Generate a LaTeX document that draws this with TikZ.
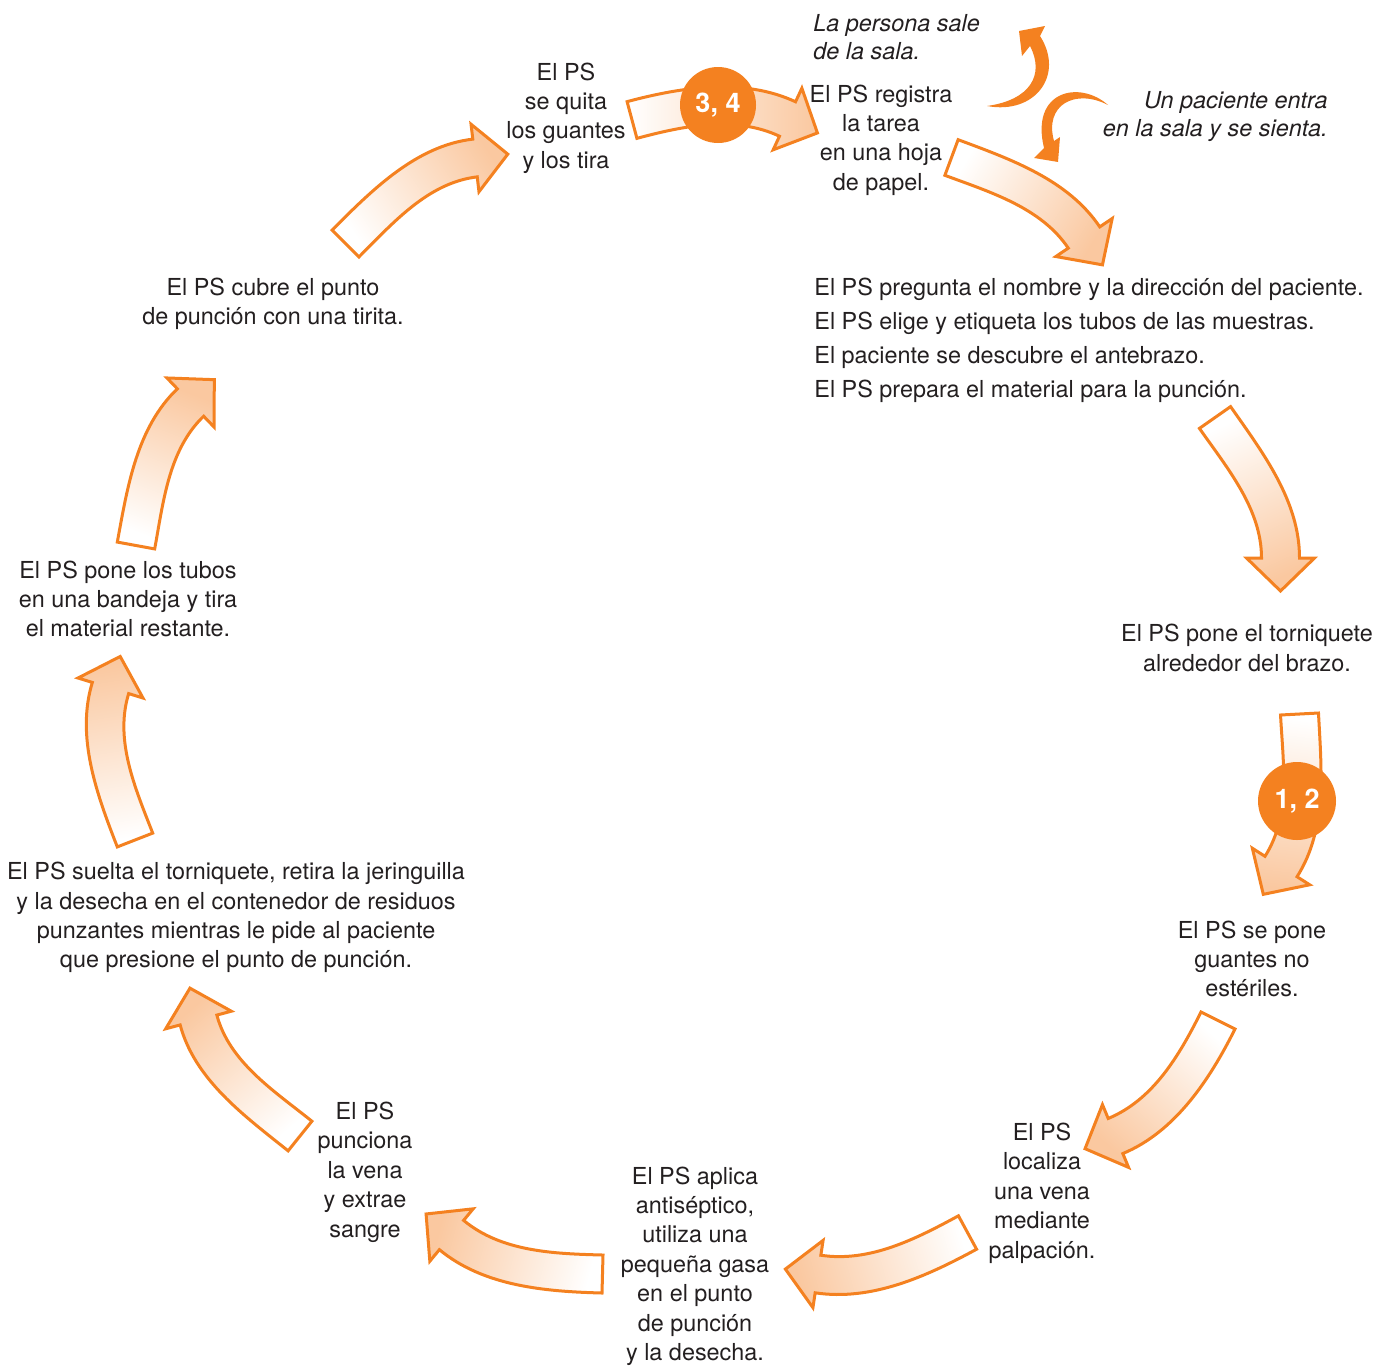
\documentclass[tikz,border=0pt]{standalone}
\usepackage{fontspec}
\setmainfont{TeX Gyre Heros}
\definecolor{aorange}{RGB}{244,129,32}
\definecolor{apeach}{RGB}{250,200,160}
\definecolor{txt}{RGB}{35,31,32}
\tikzset{
  lbl/.style={font=\fontsize{11.7}{14.7}\selectfont, align=center, inner sep=0pt, text=txt},
  ilbl/.style={font=\fontsize{11.7}{14.2}\selectfont\itshape, inner sep=0pt, text=txt},
  numdot/.style={circle, fill=aorange, inner sep=0pt, text=white, font=\fontsize{13.5}{13.5}\selectfont\bfseries},
  blockarrow/.style={draw=aorange, line width=1.5pt, line join=miter},
  smallarrow/.style={fill=aorange}
}
% tail centre (x,y), head-base centre (x,y), tail tangent, head tangent (screen angles, y down)
\newcommand{\cyarrow}[6]{%
  \pgfmathsetmacro\cyTx{#1}\pgfmathsetmacro\cyTy{#2}%
  \pgfmathsetmacro\cyBx{#3}\pgfmathsetmacro\cyBy{#4}%
  \pgfmathsetmacro\cyta{#5}\pgfmathsetmacro\cytb{#6}%
  \pgfmathsetmacro\cyLen{veclen(\cyBx-\cyTx,\cyBy-\cyTy)}%
  \pgfmathsetmacro\cyal{atan2(\cyBy-\cyTy,\cyBx-\cyTx)}%
  \pgfmathsetmacro\cysa{90-\cyal}%
  \pgfmathsetmacro\cyko{0.342*\cyLen+4}%
  \pgfmathsetmacro\cyki{0.342*\cyLen-4}%
  \pgfmathsetmacro\cyTox{\cyTx+19*sin(\cyta)}\pgfmathsetmacro\cyToy{\cyTy-19*cos(\cyta)}%
  \pgfmathsetmacro\cyTix{\cyTx-19*sin(\cyta)}\pgfmathsetmacro\cyTiy{\cyTy+19*cos(\cyta)}%
  \pgfmathsetmacro\cyBox{\cyBx+19*sin(\cytb)}\pgfmathsetmacro\cyBoy{\cyBy-19*cos(\cytb)}%
  \pgfmathsetmacro\cyBix{\cyBx-19*sin(\cytb)}\pgfmathsetmacro\cyBiy{\cyBy+19*cos(\cytb)}%
  \pgfmathsetmacro\cyHox{\cyBx+34*sin(\cytb)}\pgfmathsetmacro\cyHoy{\cyBy-34*cos(\cytb)}%
  \pgfmathsetmacro\cyHix{\cyBx-34*sin(\cytb)}\pgfmathsetmacro\cyHiy{\cyBy+34*cos(\cytb)}%
  \pgfmathsetmacro\cyPx{\cyBx+33*cos(\cytb)}\pgfmathsetmacro\cyPy{\cyBy+33*sin(\cytb)}%
  \pgfmathsetmacro\cyAx{\cyTox+\cyko*cos(\cyta)}\pgfmathsetmacro\cyAy{\cyToy+\cyko*sin(\cyta)}%
  \pgfmathsetmacro\cyCx{\cyBox-\cyko*cos(\cytb)}\pgfmathsetmacro\cyCy{\cyBoy-\cyko*sin(\cytb)}%
  \pgfmathsetmacro\cyDx{\cyBix-\cyki*cos(\cytb)}\pgfmathsetmacro\cyDy{\cyBiy-\cyki*sin(\cytb)}%
  \pgfmathsetmacro\cyEx{\cyTix+\cyki*cos(\cyta)}\pgfmathsetmacro\cyEy{\cyTiy+\cyki*sin(\cyta)}%
  \path[blockarrow, top color=white, bottom color=apeach, shading angle=\cysa]
    (\cyTox,\cyToy) .. controls (\cyAx,\cyAy) and (\cyCx,\cyCy) .. (\cyBox,\cyBoy)
    -- (\cyHox,\cyHoy) -- (\cyPx,\cyPy) -- (\cyHix,\cyHiy) -- (\cyBix,\cyBiy)
    .. controls (\cyDx,\cyDy) and (\cyEx,\cyEy) .. (\cyTix,\cyTiy) -- cycle;
}
\begin{document}
\begin{tikzpicture}[x=0.5pt, y=-0.5pt]
\useasboundingbox (0,0) rectangle (1390,1365);

% block arrows of the cycle
\cyarrow{632}{120}{787.5}{119}{-15}{25}
\cyarrow{951.5}{157.5}{1084}{237.5}{20.4}{56}
\cyarrow{1215}{417.5}{1280.5}{558}{55}{90}
\cyarrow{1299.5}{714}{1281}{866.5}{87}{122.5}
\cyarrow{1218}{1020.5}{1115.5}{1136}{116.6}{157.4}
\cyarrow{967.5}{1232.5}{818}{1274}{151.5}{188.6}
\cyarrow{602.5}{1274}{451.5}{1235}{181.5}{219.6}
\cyarrow{300}{1136}{198.5}{1020}{218.7}{255}
\cyarrow{135}{840}{110.5}{688}{248.7}{287.1}
\cyarrow{136}{545.5}{190.5}{402.5}{-79.6}{-43.8}
\cyarrow{345.5}{243.5}{475}{158}{-45}{-6.7}

% number badges
\node[numdot, minimum size=38pt] (c34) at (718,105) {3, 4};
\node[numdot, minimum size=39pt] (c12) at (1297,801) {1, 2};

% small entry / exit arrows
\path[smallarrow] (987,106) .. controls (1035,115) and (1065,75) .. (1040,36)
  -- (1045,26) -- (1019,31) -- (1022,56) -- (1030,46)
  .. controls (1045,75) and (1030,100) .. (987,106) -- cycle;
\path[smallarrow] (1108,105) .. controls (1080,80) and (1030,90) .. (1044,148)
  -- (1034,158) -- (1058,162) -- (1060,137) -- (1054,141)
  .. controls (1044,105) and (1075,88) .. (1108,105) -- cycle;

% texts
\node[ilbl, anchor=west, align=left] (sale) at (813,37) {La persona sale\\de la sala.};
\node[ilbl, anchor=east, align=right] (entra) at (1328,116.5) {Un paciente entra\\en la sala y se sienta.};

\node[lbl] (quita) at (566,118) {El PS\\se quita\\los guantes\\y los tira};
\node[lbl] (registra) at (881,140) {El PS registra\\la tarea\\en una hoja\\de papel.};
\node[lbl, anchor=west, align=left, font=\fontsize{11.7}{17}\selectfont] (pregunta) at (814,340.5)
  {El PS pregunta el nombre y la dirección del paciente.\\El PS elige y etiqueta los tubos de las muestras.\\El paciente se descubre el antebrazo.\\El PS prepara el material para la punción.};
\node[lbl] (torniquete) at (1247,648) {El PS pone el torniquete\\alrededor del brazo.};
\node[lbl] (guantes) at (1252,959) {El PS se pone\\guantes no\\estériles.};
\node[lbl] (localiza) at (1042,1193) {El PS\\localiza\\una vena\\mediante\\palpación.};
\node[lbl] (aplica) at (695,1266) {El PS aplica\\antiséptico,\\utiliza una\\pequeña gasa\\en el punto\\de punción\\y la desecha.};
\node[lbl] (punciona) at (365,1172) {El PS\\punciona\\la vena\\y extrae\\sangre};
\node[lbl] (suelta) at (236,917.5) {El PS suelta el torniquete, retira la jeringuilla\\y la desecha en el contenedor de residuos\\punzantes mientras le pide al paciente\\que presione el punto de punción.};
\node[lbl] (tubos) at (128,599) {El PS pone los tubos\\en una bandeja y tira\\el material restante.};
\node[lbl] (cubre) at (273,304) {El PS cubre el punto\\de punción con una tirita.};
\end{tikzpicture}
\end{document}
